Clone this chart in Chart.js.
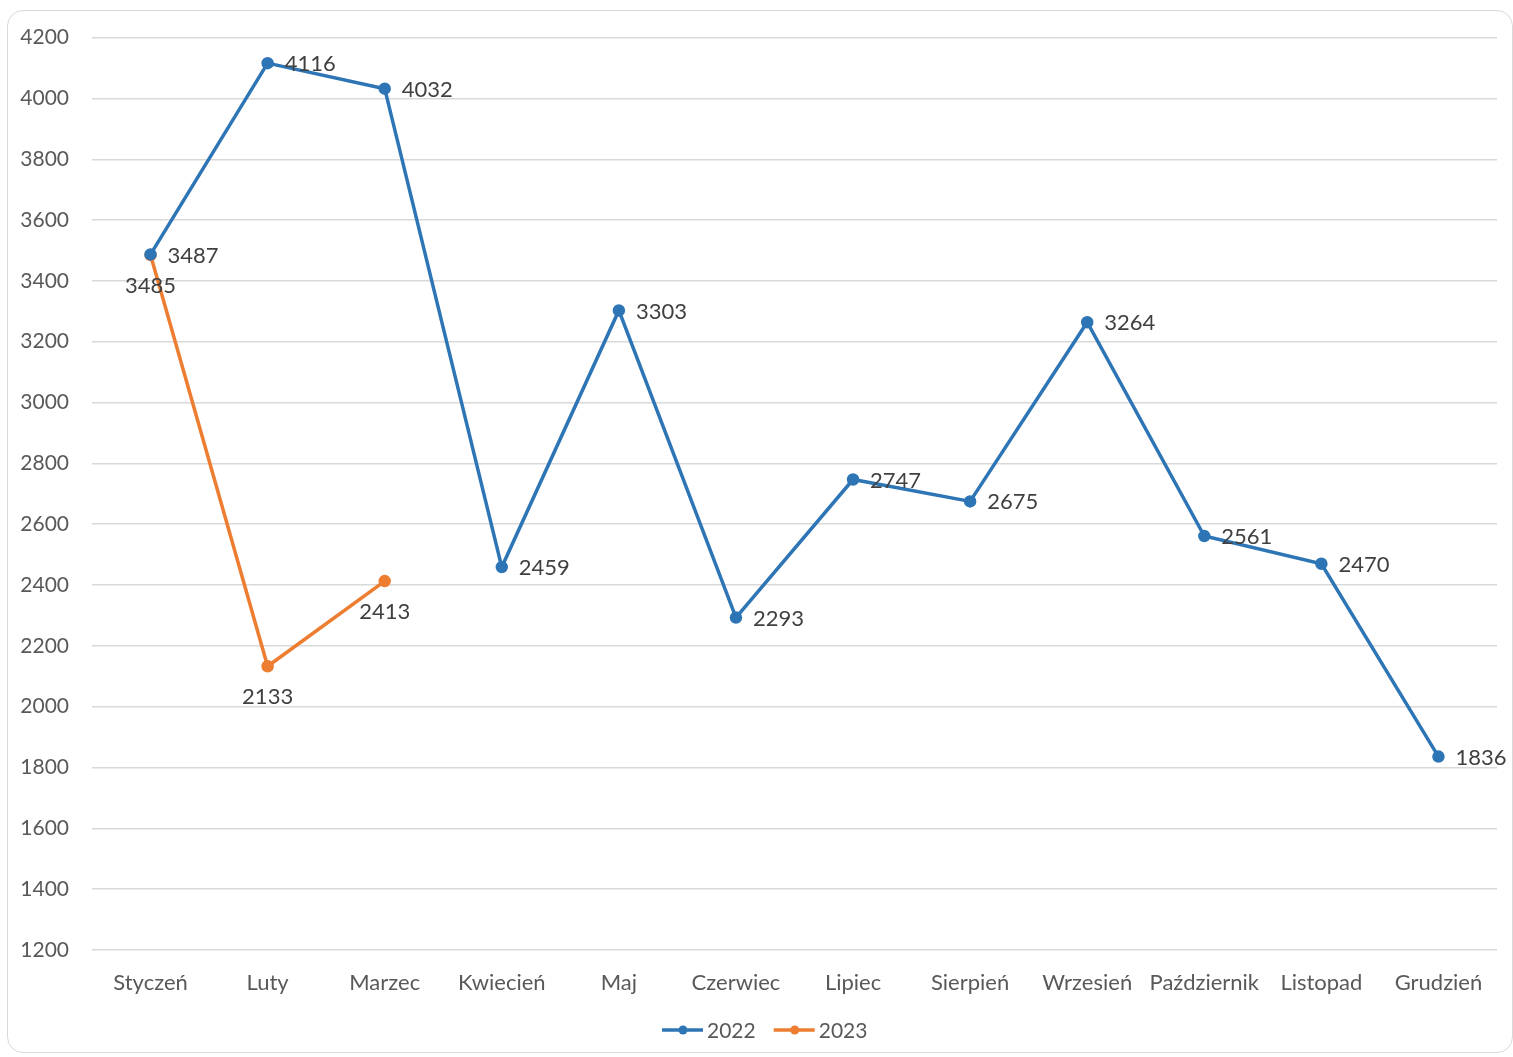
<!DOCTYPE html>
<html lang="pl">
<head>
<meta charset="utf-8">
<title>2022 / 2023</title>
<script src="https://cdn.jsdelivr.net/npm/chart.js@4"></script>
<style>
  html, body { margin: 0; padding: 0; background: #fff; }
  .card {
    position: absolute;
    left: 7px;
    top: 10px;
    width: 1504px;
    height: 1041px;
    border: 1px solid #d9d9d9;
    border-radius: 16px;
    overflow: hidden;
  }
  canvas { display: block; position: relative; top: -9px; }
</style>
</head>
<body>
<div class="card">
  <canvas id="myChart" width="1504" height="1050"></canvas>
</div>
<script>
// miesiące i wartości
const months = [
  "Styczeń", "Luty", "Marzec", "Kwiecień", "Maj", "Czerwiec",
  "Lipiec", "Sierpień", "Wrzesień", "Październik", "Listopad", "Grudzień",
];
const values2022 = [3487, 4116, 4032, 2459, 3303, 2293, 2747, 2675, 3264, 2561, 2470, 1836];
const values2023 = [3485, 2133, 2413, null, null, null, null, null, null, null, null, null];

const BLUE = "#2e75b6";
const ORANGE = "#ed7d31";
const FONT = "Lato, 'Open Sans', sans-serif";

// etykiety wartości obok punktów
const pointLabels = {
  id: "pointLabels",
  afterDatasetsDraw(chart) {
    const ctx = chart.ctx;
    ctx.save();
    ctx.font = `22px ${FONT}`;
    ctx.fillStyle = "#404040";
    chart.data.datasets.forEach((ds, i) => {
      const meta = chart.getDatasetMeta(i);
      meta.data.forEach((pt, j) => {
        const v = ds.data[j];
        if (v === null || v === undefined) return;
        ctx.textBaseline = "middle";
        if (ds.labelPos === "below") {
          ctx.textAlign = "center";
          ctx.fillText(String(v), pt.x, pt.y + 31);
        } else {
          ctx.textAlign = "left";
          ctx.fillText(String(v), pt.x + 17, pt.y + 1);
        }
      });
    });
    ctx.restore();
  },
};

// legenda w stylu linii z punktem
const lineLegend = {
  id: "lineLegend",
  afterDraw(chart) {
    const ctx = chart.ctx;
    const y = chart.height - 22;
    let x = chart.width / 2 - 98;
    ctx.save();
    ctx.font = `21px ${FONT}`;
    ctx.textBaseline = "middle";
    ctx.textAlign = "left";
    chart.data.datasets.forEach((ds) => {
      ctx.strokeStyle = ds.borderColor;
      ctx.lineWidth = 3.5;
      ctx.beginPath();
      ctx.moveTo(x, y);
      ctx.lineTo(x + 41, y);
      ctx.stroke();
      ctx.fillStyle = ds.borderColor;
      ctx.beginPath();
      ctx.arc(x + 21, y, 4.5, 0, Math.PI * 2);
      ctx.fill();
      ctx.fillStyle = "#595959";
      ctx.fillText(ds.label, x + 45, y + 1);
      x += 45 + ctx.measureText(ds.label).width + 18;
    });
    ctx.restore();
  },
};

const ctx = document.getElementById("myChart");

new Chart(ctx, {
  type: "line",
  data: {
    labels: months,
    datasets: [
      {
        label: "2022",
        data: values2022,
        borderColor: BLUE,
        backgroundColor: BLUE,
        borderWidth: 3.5,
        pointRadius: 4.5,
        pointHoverRadius: 4.5,
        labelPos: "right",
      },
      {
        label: "2023",
        data: values2023,
        borderColor: ORANGE,
        backgroundColor: ORANGE,
        borderWidth: 3.5,
        pointRadius: 4.5,
        pointHoverRadius: 4.5,
        spanGaps: false,
        labelPos: "below",
      },
    ],
  },
  options: {
    responsive: false,
    animation: false,
    layout: {
      padding: { top: 16, right: 15, bottom: 58, left: 0 },
    },
    plugins: {
      legend: { display: false },
      tooltip: { enabled: false },
    },
    scales: {
      x: {
        offset: true,
        grid: { display: false, drawTicks: false },
        border: { display: false },
        ticks: {
          color: "#595959",
          font: { family: FONT, size: 22 },
          padding: 20,
          maxRotation: 0,
          autoSkip: false,
        },
        afterFit(scale) {
          scale.height = 44;
        },
      },
      y: {
        min: 1200,
        max: 4200,
        grid: { color: "#d9d9d9", lineWidth: 1.5, drawTicks: false },
        border: { display: false },
        ticks: {
          stepSize: 200,
          color: "#595959",
          font: { family: FONT, size: 21 },
          padding: 23,
          callback: (v) => String(v),
        },
        afterFit(scale) {
          scale.width = 84;
        },
      },
    },
  },
  plugins: [pointLabels, lineLegend],
});
</script>
</body>
</html>
